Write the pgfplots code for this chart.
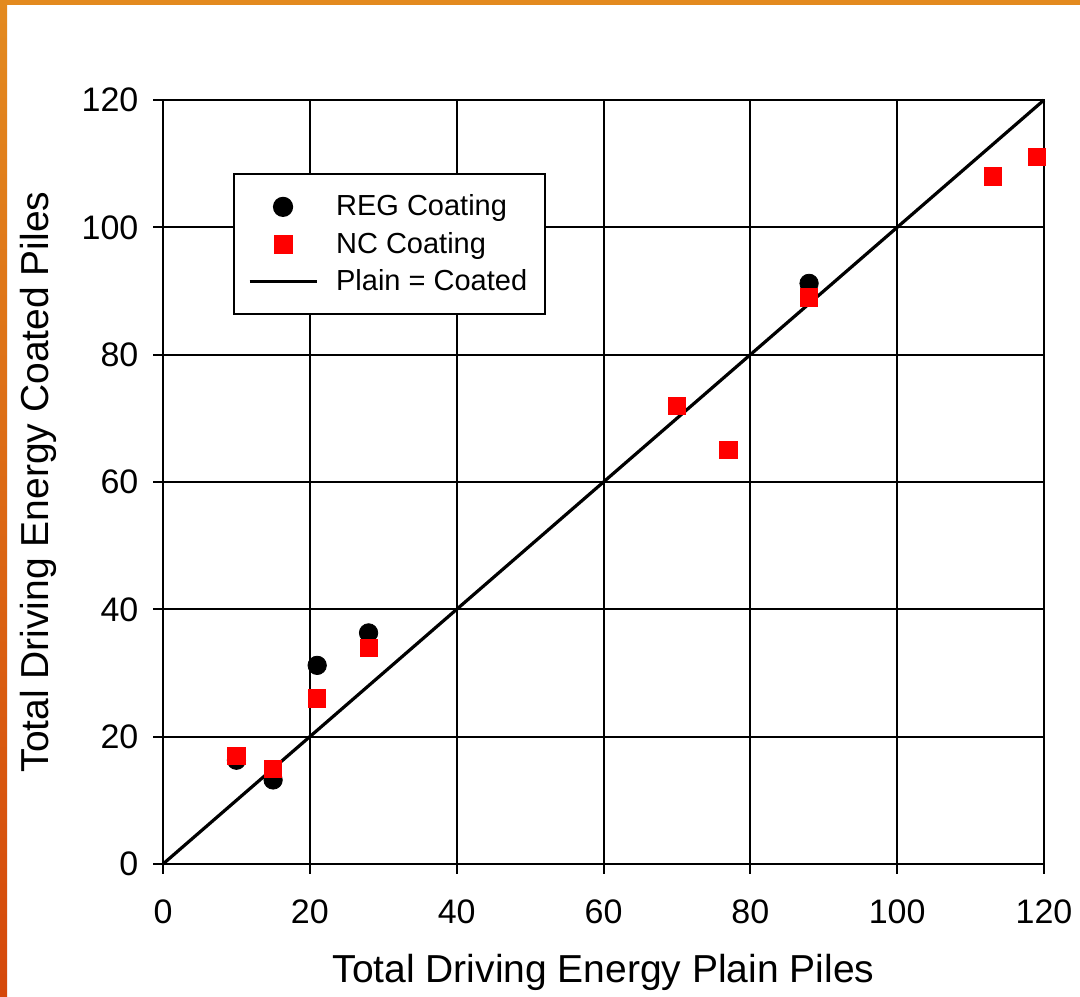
\documentclass[border=0pt]{standalone}
\usepackage{pgfplots}
\pgfplotsset{compat=1.18}
\usepackage{fontspec}
\setmainfont{Liberation Sans}
\definecolor{borderA}{HTML}{E38A1F}
\definecolor{borderB}{HTML}{D5480A}
\definecolor{mred}{HTML}{FF0000}
\begin{document}
\begin{tikzpicture}[x=1pt,y=1pt]
\useasboundingbox (0,0) rectangle (540,498);
\fill[white] (0,0) rectangle (540,498);
\fill[borderA] (0,495.5) rectangle (540,498);
\shade[top color=borderA, bottom color=borderB] (0,0) rectangle (3.5,498);
\begin{axis}[
  at={(81.5pt,66pt)}, anchor=south west,
  scale only axis, width=440.5pt, height=382pt,
  xmin=0, xmax=120, ymin=0, ymax=120,
  xtick={0,20,...,120}, ytick={0,20,...,120},
  grid=major,
  grid style={black, line width=1pt},
  axis line style={black, line width=1pt},
  tick style={black, line width=1pt},
  tick align=outside, major tick length=4.8pt,
  xtick pos=bottom, ytick pos=left,
  /pgf/number format/assume math mode=true,
  ticklabel style={font=\fontsize{17}{20}\selectfont},
  xticklabel style={yshift=-9.5pt},
  yticklabel style={xshift=-4pt},
  xlabel={Total Driving Energy Plain Piles},
  ylabel={Total Driving Energy Coated Piles},
  label style={font=\fontsize{19.5}{23}\selectfont},
  xlabel style={at={(axis description cs:0.5,-0.1414)}, anchor=center},
  ylabel style={at={(axis description cs:-0.1419,0.5)}, anchor=center},
  legend style={at={(rel axis cs:0.0795,0.9045)}, anchor=north west,
    draw=black, line width=0.9pt, font=\fontsize{14.5}{17.5}\selectfont,
    cells={anchor=west}, inner xsep=7pt, inner ysep=8.5pt, row sep=2.6pt,
    /tikz/every odd column/.append style={column sep=7pt}},
  legend image code/.code={\draw[mark repeat=2,mark phase=2,#1] plot coordinates {(0pt,0pt) (16.75pt,0pt) (33.5pt,0pt)};},
  clip=false,
]
\addplot[only marks, mark=*, mark size=4.6pt, black, mark options={fill=black}] coordinates {
(10,16.3) (15,13.2) (21,31.2) (28,36.3) (88,91.2)};
\addlegendentry{REG Coating}
\addplot[only marks, mark=square*, mark size=4.3pt, draw=mred, fill=mred, mark options={draw=mred, fill=mred}] coordinates {
(10,17) (15,15) (21,26) (28,34) (70,72) (77,65) (88,89) (113,108) (119,111)};
\addlegendentry{NC Coating}
\addplot[black, line width=1.6pt, no marks] coordinates {(0,0) (120,120)};
\addlegendentry{Plain = Coated}
\end{axis}
\end{tikzpicture}
\end{document}
